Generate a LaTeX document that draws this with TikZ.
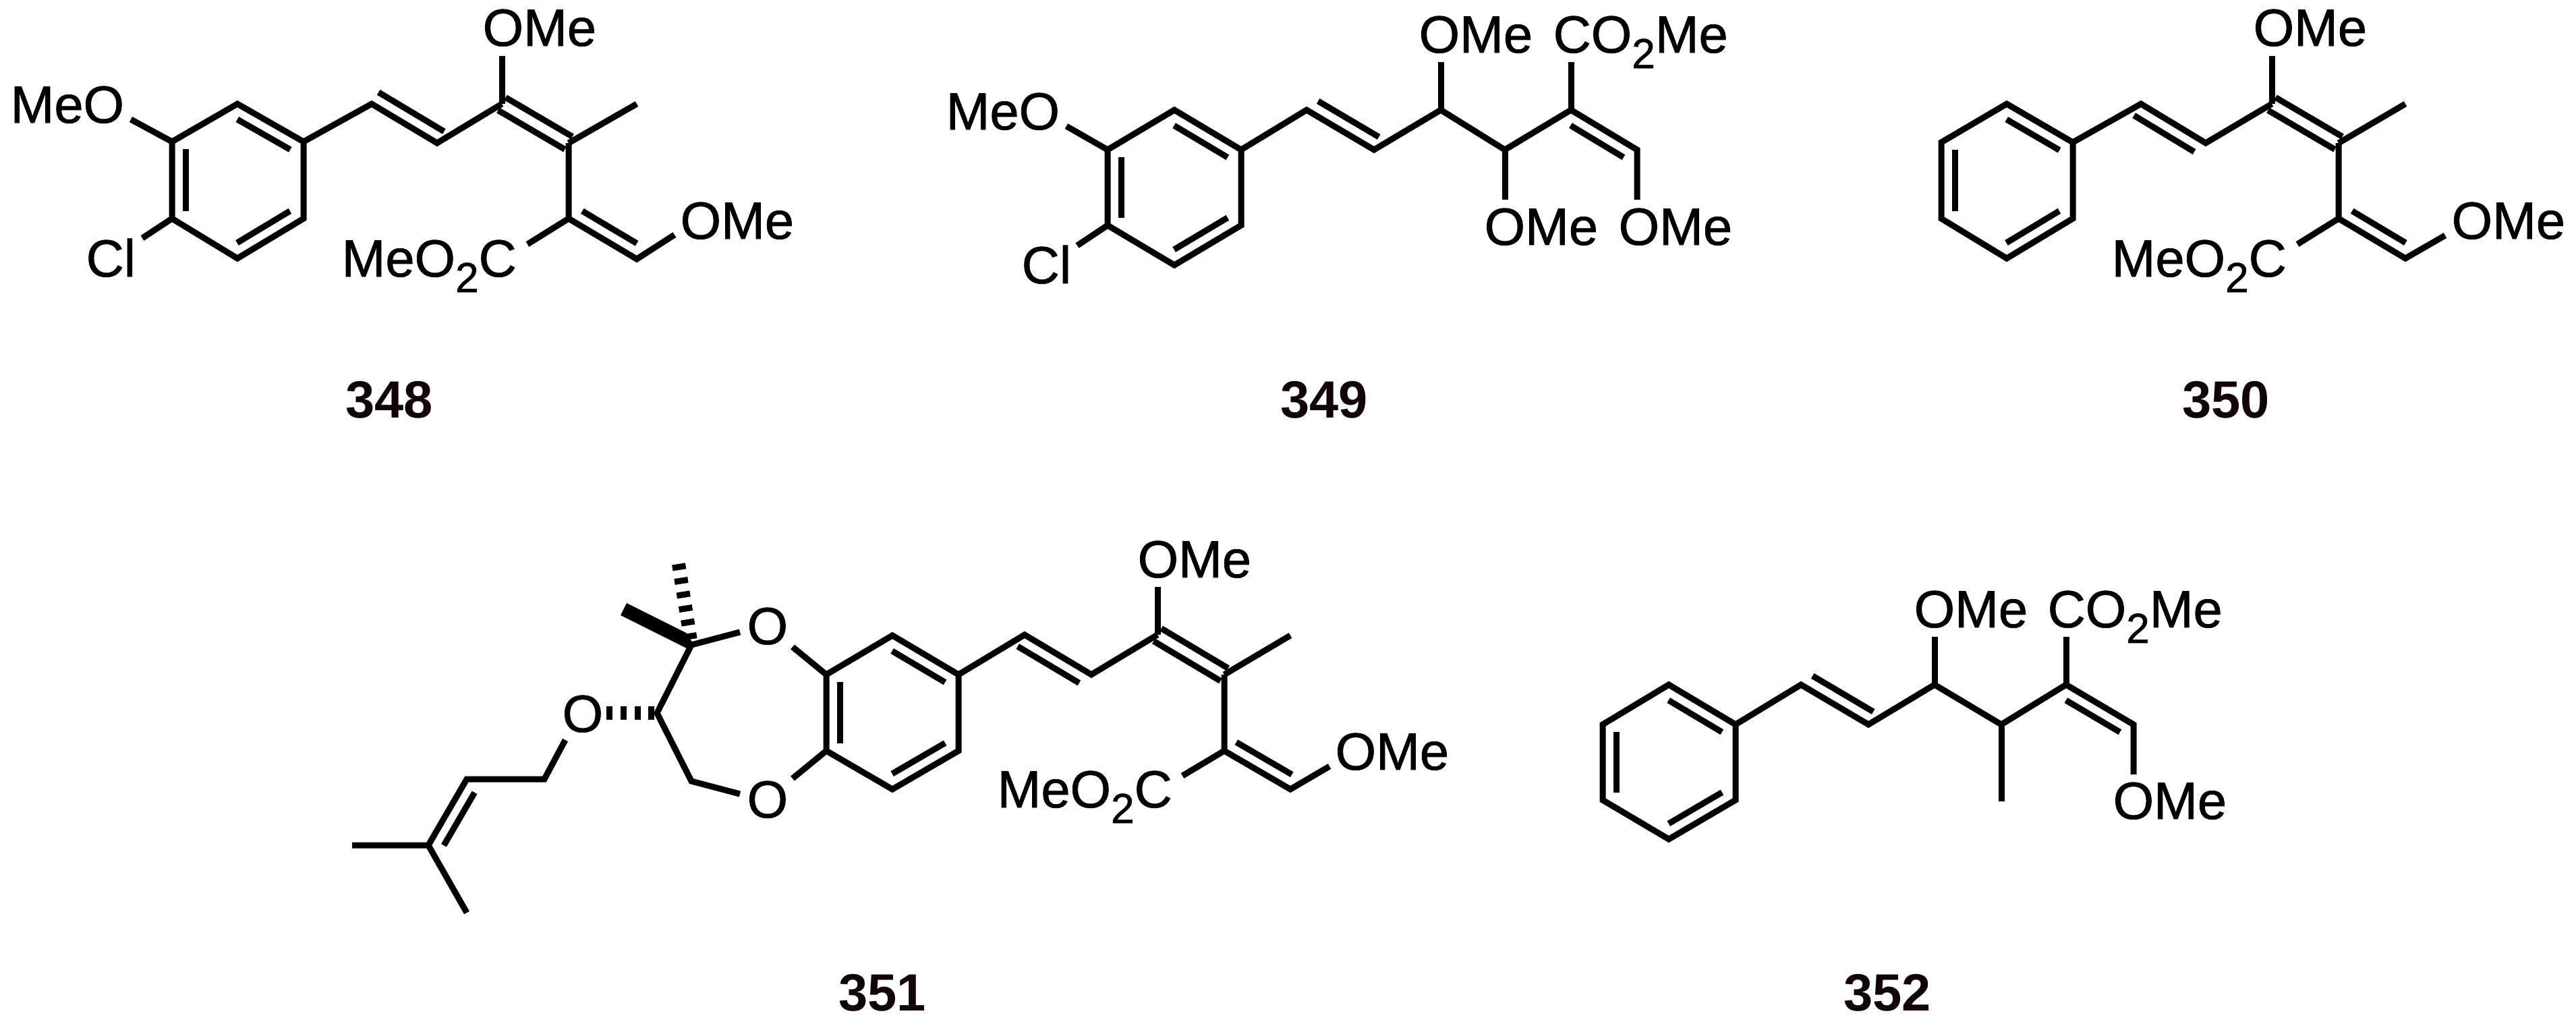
\documentclass[tikz,border=0pt]{standalone}
\usepackage{fontspec}
\setmainfont{Liberation Sans}
\newfontfamily\atomfont[FakeBold=1]{Liberation Sans}
\usetikzlibrary{calc}
\definecolor{cmpdcolor}{HTML}{120404}
\tikzset{
  bond/.style={line width=0.09cm,line join=miter},
  atom/.style={anchor=base west,inner sep=0pt,font=\fontsize{22.1pt}{26pt}\selectfont\atomfont},
  cmpd/.style={anchor=base,inner sep=0pt,text=cmpdcolor,font=\fontsize{22.1pt}{26pt}\selectfont\bfseries},
  hashbond/.style={line width=0.2cm,dash pattern=on 0.09cm off 0.118cm}
}
\newcommand{\subtwo}{\raisebox{-0.23cm}{\fontsize{17.7pt}{20pt}\selectfont 2}}
\newcommand{\dblb}[5]{\draw [bond] ($(#1)!#4!(#2)!#3!90:(#2)$) -- ($(#2)!#5!(#1)!#3!-90:(#1)$);}
\newcommand{\dblc}[2]{\dblb{#1}{#2}{0.11cm}{0}{0}\dblb{#1}{#2}{-0.11cm}{0}{0}}
\begin{document}
\begin{tikzpicture}
\useasboundingbox (0,0) rectangle (38.19,-15.17);

% 348
\coordinate (a1) at (2.55,-2.10);
\coordinate (a2) at (3.52,-1.54);
\coordinate (a3) at (4.50,-2.10);
\coordinate (a4) at (4.50,-3.24);
\coordinate (a5) at (3.52,-3.83);
\coordinate (a6) at (2.55,-3.24);
\coordinate (a7) at (5.51,-1.54);
\coordinate (a8) at (6.48,-2.12);
\coordinate (a9) at (7.44,-1.54);
\coordinate (a10) at (8.43,-2.12);
\coordinate (a11) at (9.44,-1.54);
\coordinate (a12) at (8.43,-3.24);
\coordinate (a13) at (9.44,-3.84);
\coordinate (a14) at (1.94,-1.77);
\coordinate (a15) at (2.11,-3.53);
\coordinate (a16) at (7.44,-0.83);
\coordinate (a17) at (7.82,-3.62);
\coordinate (a18) at (10.00,-3.48);
\node (meoa) at (0.15,-1.82) [atom] {MeO};
\node (cla) at (1.27,-4.10) [atom] {Cl};
\node (omea) at (7.15,-0.68) [atom] {OMe};
\node (omeb) at (10.08,-3.54) [atom] {OMe};
\node (esta) at (5.06,-4.10) [atom] {MeO\subtwo C};
\node (n348) at (5.77,-6.19) [cmpd] {348};
\draw [bond] (a1) -- (a2) -- (a3) -- (a4) -- (a5) -- (a6) -- cycle;
\dblb{a2}{a3}{-0.2cm}{0.1}{0.1}
\dblb{a4}{a5}{-0.2cm}{0.1}{0.1}
\dblb{a6}{a1}{-0.2cm}{0.1}{0.1}
\draw [bond] (a3) -- (a7) -- (a8) -- (a9);
\dblb{a7}{a8}{0.2cm}{0}{0}
\draw [bond] (a10) -- (a11);
\draw [bond] (a10) -- (a12) -- (a13) -- (a18);
\dblb{a12}{a13}{0.2cm}{0.1}{0.1}
\dblc{a9}{a10}
\draw [bond] (a1) -- (a14);
\draw [bond] (a6) -- (a15);
\draw [bond] (a9) -- (a16);
\draw [bond] (a12) -- (a17);

% 349
\coordinate (b1) at (16.42,-2.22);
\coordinate (b2) at (17.41,-1.63);
\coordinate (b3) at (18.40,-2.22);
\coordinate (b4) at (18.40,-3.34);
\coordinate (b5) at (17.41,-3.93);
\coordinate (b6) at (16.42,-3.34);
\coordinate (b7) at (19.37,-1.63);
\coordinate (b8) at (20.37,-2.22);
\coordinate (b9) at (21.36,-1.63);
\coordinate (b10) at (22.31,-2.22);
\coordinate (b11) at (23.29,-1.63);
\coordinate (b12) at (24.27,-2.22);
\coordinate (b13) at (15.81,-1.87);
\coordinate (b14) at (15.97,-3.64);
\coordinate (b15) at (21.36,-0.92);
\coordinate (b16) at (23.29,-0.92);
\coordinate (b17) at (22.31,-2.96);
\coordinate (b18) at (24.27,-2.96);
\node (meob) at (14.02,-1.92) [atom] {MeO};
\node (clb) at (15.14,-4.20) [atom] {Cl};
\node (omec) at (21.03,-0.78) [atom] {OMe};
\node (estb) at (23.02,-0.78) [atom] {CO\subtwo Me};
\node (omed) at (22.00,-3.63) [atom] {OMe};
\node (omee) at (23.99,-3.63) [atom] {OMe};
\node (n349) at (19.63,-6.19) [cmpd] {349};
\draw [bond] (b1) -- (b2) -- (b3) -- (b4) -- (b5) -- (b6) -- cycle;
\dblb{b2}{b3}{-0.2cm}{0.1}{0.1}
\dblb{b4}{b5}{-0.2cm}{0.1}{0.1}
\dblb{b6}{b1}{-0.2cm}{0.1}{0.1}
\draw [bond] (b3) -- (b7) -- (b8) -- (b9) -- (b10) -- (b11) -- (b12) -- (b18);
\dblb{b7}{b8}{0.2cm}{0.07}{0.03}
\dblb{b11}{b12}{-0.2cm}{0.1}{0.1}
\draw [bond] (b1) -- (b13);
\draw [bond] (b6) -- (b14);
\draw [bond] (b9) -- (b15);
\draw [bond] (b11) -- (b16);
\draw [bond] (b10) -- (b17);

% 350
\coordinate (c1) at (28.78,-2.11);
\coordinate (c2) at (29.75,-1.54);
\coordinate (c3) at (30.73,-2.11);
\coordinate (c4) at (30.73,-3.24);
\coordinate (c5) at (29.75,-3.83);
\coordinate (c6) at (28.78,-3.24);
\coordinate (c7) at (31.74,-1.54);
\coordinate (c8) at (32.70,-2.12);
\coordinate (c9) at (33.68,-1.54);
\coordinate (c10) at (34.67,-2.12);
\coordinate (c11) at (35.66,-1.54);
\coordinate (c12) at (34.67,-3.24);
\coordinate (c13) at (35.66,-3.83);
\coordinate (c14) at (33.68,-0.83);
\coordinate (c15) at (34.06,-3.62);
\coordinate (c16) at (36.25,-3.49);
\node (omef) at (33.40,-0.68) [atom] {OMe};
\node (omeg) at (36.34,-3.54) [atom] {OMe};
\node (estc) at (31.30,-4.10) [atom] {MeO\subtwo C};
\node (n350) at (33.00,-6.19) [cmpd] {350};
\draw [bond] (c1) -- (c2) -- (c3) -- (c4) -- (c5) -- (c6) -- cycle;
\dblb{c2}{c3}{-0.2cm}{0.1}{0.1}
\dblb{c4}{c5}{-0.2cm}{0.1}{0.1}
\dblb{c6}{c1}{-0.2cm}{0.1}{0.1}
\draw [bond] (c3) -- (c7) -- (c8) -- (c9);
\dblb{c7}{c8}{-0.2cm}{0}{0.07}
\draw [bond] (c10) -- (c11);
\draw [bond] (c10) -- (c12) -- (c13) -- (c16);
\dblb{c12}{c13}{0.2cm}{0.1}{0.1}
\dblc{c9}{c10}
\draw [bond] (c9) -- (c14);
\draw [bond] (c12) -- (c15);

% 351
\coordinate (d1) at (12.25,-10.00);
\coordinate (d2) at (13.23,-9.42);
\coordinate (d3) at (14.21,-10.00);
\coordinate (d4) at (14.21,-11.13);
\coordinate (d5) at (13.23,-11.70);
\coordinate (d6) at (12.25,-11.13);
\coordinate (d7) at (15.19,-9.41);
\coordinate (d8) at (16.18,-10.00);
\coordinate (d9) at (17.16,-9.41);
\coordinate (d10) at (18.15,-10.00);
\coordinate (d11) at (19.13,-9.42);
\coordinate (d12) at (18.15,-11.13);
\coordinate (d13) at (19.13,-11.70);
\coordinate (d14) at (17.16,-8.70);
\coordinate (d15) at (17.53,-11.50);
\coordinate (d16) at (19.71,-11.36);
\coordinate (q1) at (10.25,-9.56);
\coordinate (q2) at (9.74,-10.57);
\coordinate (q3) at (10.25,-11.58);
\coordinate (q4) at (10.97,-9.37);
\coordinate (q5) at (11.75,-9.59);
\coordinate (q6) at (10.97,-11.77);
\coordinate (q7) at (11.75,-11.54);
\coordinate (h1) at (10.06,-8.36);
\coordinate (h2) at (8.99,-10.57);
\coordinate (w1) at (9.29,-8.94);
\coordinate (w2) at (9.20,-9.12);
\coordinate (w3) at (10.17,-9.38);
\coordinate (w4) at (10.27,-9.53);
\coordinate (w5) at (10.20,-9.62);
\coordinate (p0) at (8.38,-10.97);
\coordinate (p1) at (8.07,-11.55);
\coordinate (p2) at (6.92,-11.55);
\coordinate (p3) at (6.35,-12.53);
\coordinate (p4) at (5.22,-12.53);
\coordinate (p5) at (6.92,-13.53);
\node (oa) at (11.07,-9.55) [atom] {O};
\node (ob) at (11.07,-12.12) [atom] {O};
\node (oc) at (8.33,-10.85) [atom] {O};
\node (omeh) at (16.86,-8.56) [atom] {OMe};
\node (omei) at (19.79,-11.41) [atom] {OMe};
\node (estd) at (14.78,-11.97) [atom] {MeO\subtwo C};
\node (n351) at (13.08,-14.98) [cmpd] {351};
\draw [bond] (d1) -- (d2) -- (d3) -- (d4) -- (d5) -- (d6) -- cycle;
\dblb{d2}{d3}{-0.2cm}{0.1}{0.1}
\dblb{d4}{d5}{-0.2cm}{0.1}{0.1}
\dblb{d6}{d1}{-0.2cm}{0.1}{0.1}
\draw [bond] (d3) -- (d7) -- (d8) -- (d9);
\dblb{d7}{d8}{-0.2cm}{0}{0.08}
\draw [bond] (d10) -- (d11);
\draw [bond] (d10) -- (d12) -- (d13) -- (d16);
\dblb{d12}{d13}{0.2cm}{0.08}{0.08}
\dblc{d9}{d10}
\draw [bond] (d9) -- (d14);
\draw [bond] (d12) -- (d15);
\draw [bond] (q4) -- (q1) -- (q2) -- (q3) -- (q6);
\draw [bond] (d1) -- (q5);
\draw [bond] (d6) -- (q7);
\fill (w1) -- (w3) -- (w4) -- (w5) -- (w2) -- cycle;
\draw [hashbond] (h1) -- (q1);
\draw [hashbond] (h2) -- (q2);
\draw [bond] (p0) -- (p1) -- (p2) -- (p3) -- (p4);
\draw [bond] (p3) -- (p5);
\dblb{p2}{p3}{0.2cm}{0.1}{0.1}

% 352
\coordinate (e1) at (23.76,-10.74);
\coordinate (e2) at (24.74,-10.15);
\coordinate (e3) at (25.73,-10.74);
\coordinate (e4) at (25.73,-11.86);
\coordinate (e5) at (24.74,-12.44);
\coordinate (e6) at (23.76,-11.86);
\coordinate (e7) at (26.70,-10.15);
\coordinate (e8) at (27.70,-10.74);
\coordinate (e9) at (28.68,-10.15);
\coordinate (e10) at (29.67,-10.74);
\coordinate (e11) at (30.63,-10.15);
\coordinate (e12) at (31.63,-10.74);
\coordinate (e13) at (29.67,-11.88);
\coordinate (e14) at (28.68,-9.44);
\coordinate (e15) at (30.63,-9.44);
\coordinate (e16) at (31.63,-11.48);
\node (omej) at (28.37,-9.30) [atom] {OMe};
\node (este) at (30.35,-9.30) [atom] {CO\subtwo Me};
\node (omek) at (31.32,-12.14) [atom] {OMe};
\node (n352) at (27.98,-14.98) [cmpd] {352};
\draw [bond] (e1) -- (e2) -- (e3) -- (e4) -- (e5) -- (e6) -- cycle;
\dblb{e2}{e3}{-0.2cm}{0.1}{0.1}
\dblb{e4}{e5}{-0.2cm}{0.1}{0.1}
\dblb{e6}{e1}{-0.2cm}{0.1}{0.1}
\draw [bond] (e3) -- (e7) -- (e8) -- (e9) -- (e10) -- (e11) -- (e12) -- (e16);
\dblb{e7}{e8}{0.2cm}{0.07}{0.03}
\dblb{e11}{e12}{-0.2cm}{0.1}{0.1}
\draw [bond] (e9) -- (e14);
\draw [bond] (e11) -- (e15);
\draw [bond] (e10) -- (e13);
\end{tikzpicture}
\end{document}
